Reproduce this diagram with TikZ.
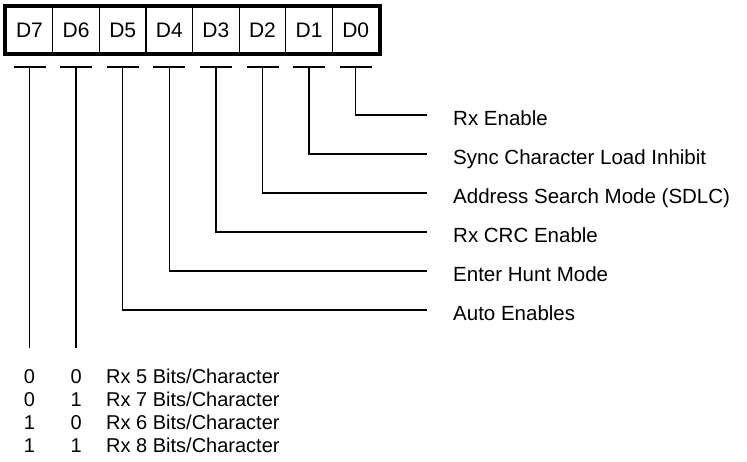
\documentclass[tikz,border=0pt]{standalone}
\usepackage{fontspec}
\setmainfont{Liberation Sans}
\usetikzlibrary{positioning,fit}
\tikzset{
  cell/.style={draw,line width=1.2pt,minimum width=46.6pt,minimum height=46pt,inner sep=0pt,font=\fontsize{21}{24}\selectfont},
  frame/.style={draw,line width=3.2pt,inner sep=1pt},
  wire/.style={line width=1.3pt},
  tbar/.style={line width=1.8pt},
  lbl/.style={anchor=base west,inner sep=0pt,font=\fontsize{20.5}{24}\selectfont},
  tbl/.style={anchor=base,inner sep=0pt,font=\fontsize{20}{23}\selectfont}
}
\begin{document}
\begin{tikzpicture}[x=1pt,y=-1pt]
\useasboundingbox (0,0) rectangle (747,461);
% register bits
\foreach \b in {7,...,0}
  \node[cell] (d\b) at ({29.5+46.6*(7-\b)},30) {D\b};
\node[frame,fit=(d7)(d0)] (reg) {};
% tick under each bit
\foreach \b in {7,...,0}{
  \coordinate (t\b) at ({29.5+46.6*(7-\b)},67);
  \draw[tbar] ([xshift=-16pt]t\b) -- ([xshift=16pt]t\b);
}
% single bit labels
\foreach \b/\y/\txt in {0/115/{Rx Enable},1/154/{Sync Character Load Inhibit},2/193/{Address Search Mode (SDLC)},3/232/{Rx CRC Enable},4/271/{Enter Hunt Mode},5/310/{Auto Enables}}{
  \node[lbl] (l\b) at (453,\y+10) {\txt};
  \coordinate (e\b) at (427,\y);
  \draw[wire] (t\b) |- (e\b);
}
% D7 D6 field
\coordinate (b7) at (29.5,348);
\coordinate (b6) at (76.1,348);
\draw[wire] (t7) -- (b7);
\draw[wire] (t6) -- (b6);
\foreach \r/\p/\q/\nb in {0/0/0/5,1/0/1/7,2/1/0/6,3/1/1/8}{
  \node[tbl] (p\r) at (29.5,383+23*\r) {\p};
  \node[tbl] (q\r) at (76.1,383+23*\r) {\q};
  \node[tbl,anchor=base west] (r\r) at (106,383+23*\r) {Rx \nb\ Bits/Character};
}
\end{tikzpicture}
\end{document}
